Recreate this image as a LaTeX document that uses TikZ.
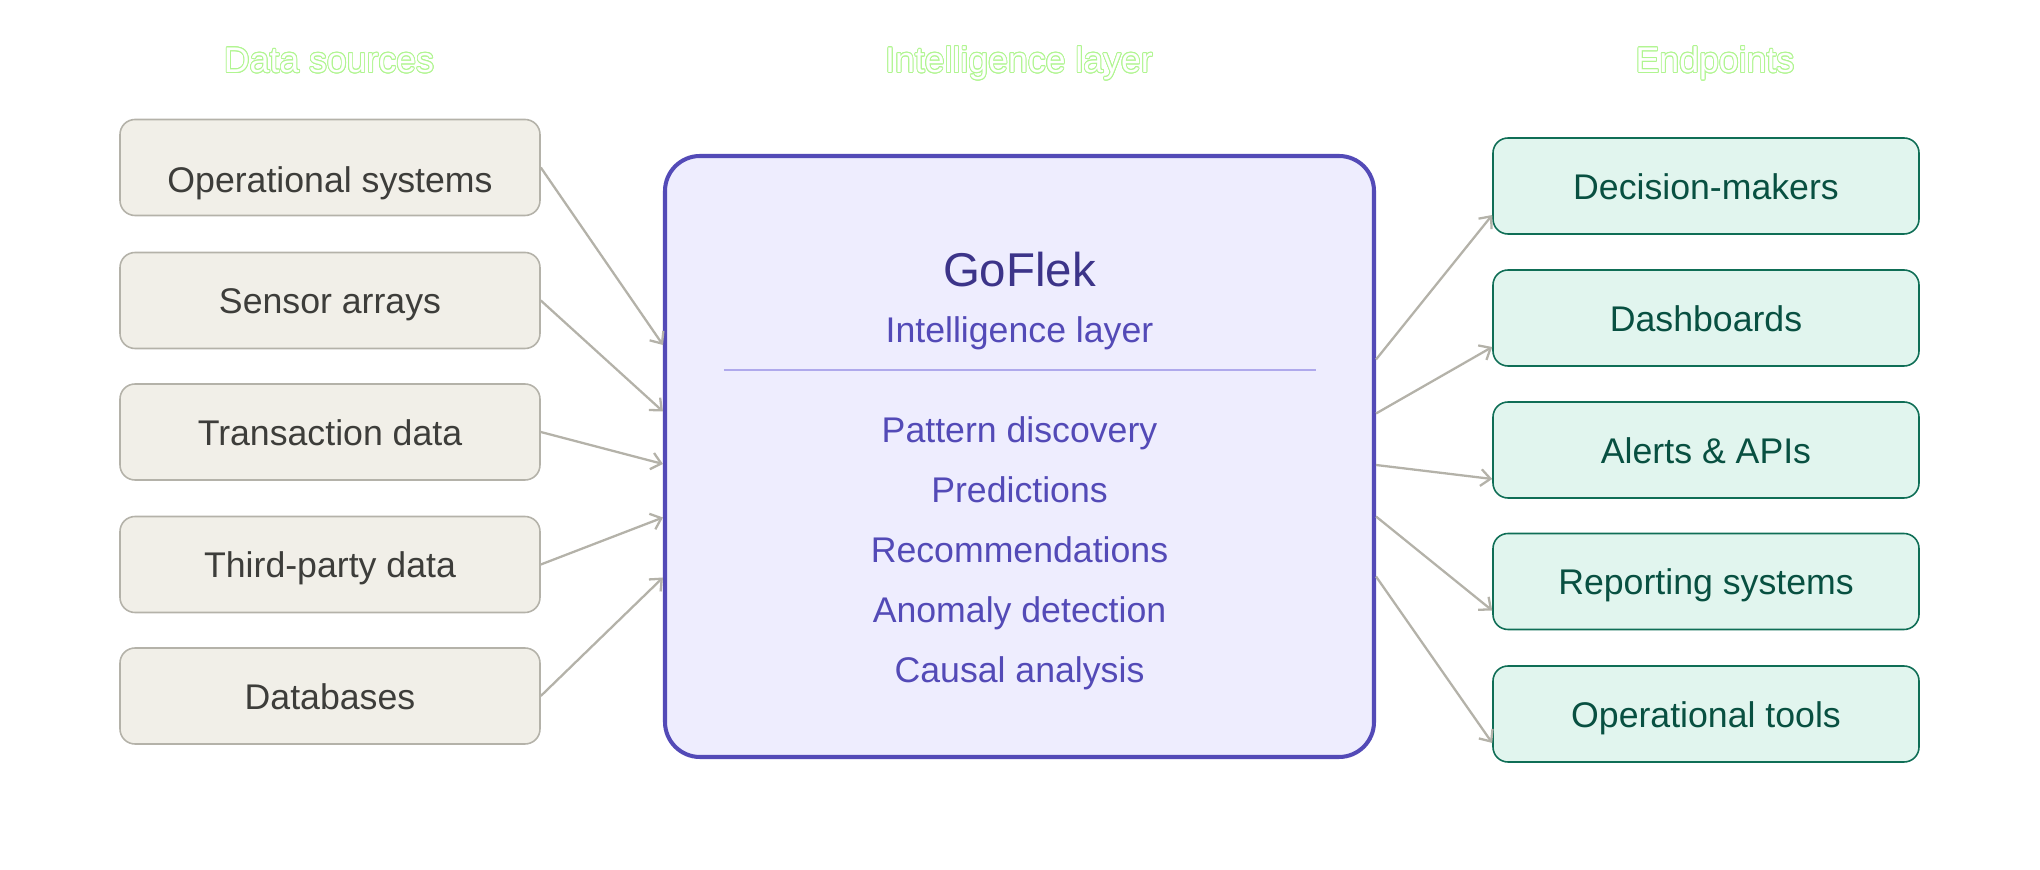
\documentclass[tikz,border=0pt]{standalone}
\usepackage{fontspec}
\setmainfont{Liberation Sans}
\usepackage[copies]{contour}
\usetikzlibrary{arrows.meta, positioning, calc}

\definecolor{srcfill}{HTML}{F1EFE8}
\definecolor{srcedge}{HTML}{B4B2A9}
\definecolor{srcink}{HTML}{3D3D3A}
\definecolor{corefill}{HTML}{EEEDFE}
\definecolor{coreedge}{HTML}{534AB7}
\definecolor{coretitle}{HTML}{3C3489}
\definecolor{coreline}{HTML}{AFA9EC}
\definecolor{dstfill}{HTML}{E1F5EE}
\definecolor{dstedge}{HTML}{0F6E56}
\definecolor{dstink}{HTML}{085041}
\definecolor{flowgray}{HTML}{B4B2A9}
\definecolor{headgreen}{HTML}{B0F590}

\newcommand{\boxfont}{\fontsize{20.3}{24}\selectfont}
\contourlength{0.5pt}

\begin{document}
\begin{tikzpicture}[
    textline/.style={font=\boxfont, text height=0.69cm, text depth=0.15cm},
    srcbox/.style={textline, draw=srcedge, fill=srcfill, line width=0.9pt, rounded corners=0.3cm,
      minimum width=8.4cm, minimum height=1.92cm, text=srcink},
    dstbox/.style={textline, draw=dstedge, fill=dstfill, line width=0.9pt, rounded corners=0.3cm,
      minimum width=8.52cm, minimum height=1.92cm, text=dstink},
    heading/.style={textline, text=white},
    coreitem/.style={textline, text=coreedge},
    flow/.style={-{Straight Barb[length=5.5pt, width=9.5pt]}, draw=flowgray, line width=1.3pt}
  ]
  \useasboundingbox (0,0) rectangle (40.8,17.4);

  % column titles
  \node[heading] (hsrc) at (6.58, 16.22) {\contour{headgreen}{Data sources}};
  \node[heading] (hcore) at (20.38, 16.22) {\contour{headgreen}{Intelligence layer}};
  \node[heading] (hdst) at (34.3, 16.22) {\contour{headgreen}{Endpoints}};

  % sources
  \node[srcbox, text height=1.15cm] (src1) at (6.6, 14.05) {Operational systems};
  \node[srcbox] (src2) at (6.6, 11.39) {Sensor arrays};
  \node[srcbox] (src3) at (6.6, 8.76) {Transaction data};
  \node[srcbox] (src4) at (6.6, 6.11) {Third-party data};
  \node[srcbox] (src5) at (6.6, 3.48) {Databases};

  % intelligence layer
  \node[draw=coreedge, fill=corefill, line width=2.3pt, rounded corners=0.7cm,
    minimum width=14.18cm, minimum height=12.02cm] (core) at (20.39, 8.27) {};
  \node[text=coretitle, font=\fontsize{27}{32}\selectfont] (name) at ($(core.north)+(0,-2.31)$) {GoFlek};
  \node[coreitem] (sub) at ($(core.north)+(0,-3.51)$) {Intelligence layer};
  \coordinate (rulel) at ($(core.north west)+(1.22,-4.32)$);
  \coordinate (ruler) at ($(core.north east)+(-1.2,-4.32)$);
  \draw[coreline, line width=0.6pt] (rulel) -- (ruler);
  \foreach \txt [count=\i] in {Pattern discovery, Predictions, Recommendations, Anomaly detection, Causal analysis}
    \node[coreitem] (item\i) at ($(core.north)+(0,-4.31-1.2*\i)$) {\txt};

  % endpoints
  \node[dstbox] (dst1) at (34.12, 13.68) {Decision-makers};
  \node[dstbox] (dst2) at (34.12, 11.04) {Dashboards};
  \node[dstbox] (dst3) at (34.12, 8.4) {Alerts \& APIs};
  \node[dstbox] (dst4) at (34.12, 5.77) {Reporting systems};
  \node[dstbox] (dst5) at (34.12, 3.12) {Operational tools};

  % flows in and out
  \foreach \i/\dy in {1/2.23, 2/0.90, 3/-0.15, 4/-1.22, 5/-2.42}
    \draw[flow] (src\i.east) -- ([yshift=\dy cm]core.west);
  \foreach \i/\dy in {1/1.94, 2/0.86, 3/-0.17, 4/-1.20, 5/-2.40}
    \draw[flow] ([yshift=\dy cm]core.east) -- ([yshift=-0.58cm]dst\i.west);
\end{tikzpicture}
\end{document}
